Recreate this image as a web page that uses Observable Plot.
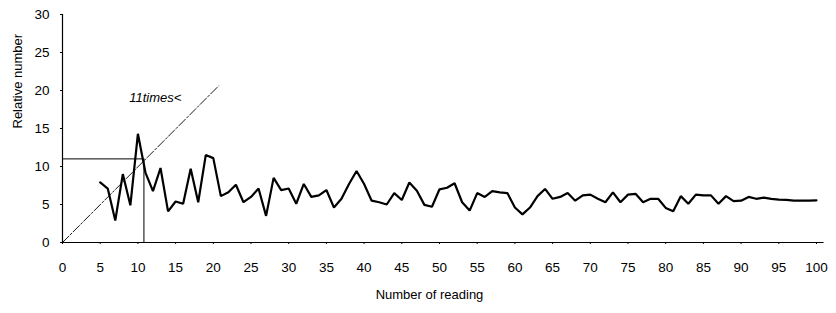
<!DOCTYPE html>
<html>
<head>
<meta charset="utf-8">
<script src="https://cdn.jsdelivr.net/npm/d3@7"></script>
<script src="https://cdn.jsdelivr.net/npm/@observablehq/plot@0.6"></script>
<style>
  html, body { margin: 0; padding: 0; background: #fff; }
  #chart svg { font-family: "Liberation Sans", Arial, sans-serif; }
</style>
</head>
<body>
<div id="chart"></div>
<script>
// Reading numbers (5..100) and relative numbers
const readings = d3.range(5, 101);
const relative = [
  7.9, 7.1, 2.9, 9.0, 4.9, 14.3, 9.2, 6.75, 9.8, 4.1,
  5.4, 5.1, 9.7, 5.3, 11.5, 11.1, 6.1, 6.6, 7.6, 5.3,
  6.0, 7.1, 3.5, 8.5, 6.9, 7.1, 5.1, 7.7, 6.0, 6.2,
  6.9, 4.6, 5.75, 7.7, 9.4, 7.7, 5.5, 5.3, 5.0, 6.5,
  5.6, 7.9, 6.8, 4.95, 4.7, 7.0, 7.2, 7.8, 5.3, 4.2,
  6.5, 6.0, 6.75, 6.6, 6.5, 4.6, 3.7, 4.6, 6.1, 7.05,
  5.75, 6.0, 6.5, 5.5, 6.2, 6.3, 5.75, 5.3, 6.6, 5.3,
  6.3, 6.4, 5.3, 5.75, 5.75, 4.55, 4.1, 6.1, 5.1, 6.3,
  6.2, 6.2, 5.1, 6.1, 5.45, 5.5, 6.0, 5.75, 5.9, 5.75,
  5.65, 5.6, 5.5, 5.5, 5.5, 5.55
];
const xTicks = d3.range(0, 101, 5);
const yTicks = d3.range(0, 31, 5);

// Reference construction lines
const diagX = [0, 20.7];
const diagY = [0, 20.6];
const crossX = 10.8;
const crossY = 11;
const annotation = {x: 12.3, y: 19.1, text: "11times<"};

const series = readings.map((r, i) => ({reading: r, value: relative[i]}));
const diag = diagX.map((x, i) => ({x, y: diagY[i]}));

const chart = Plot.plot({
  width: 836,
  height: 313,
  marginLeft: 62,
  marginRight: 20,
  marginTop: 14,
  marginBottom: 71,
  style: {fontSize: "13.5px", fontFamily: "'Liberation Sans', Arial, sans-serif", color: "#000"},
  x: {domain: [0, 100]},
  y: {domain: [0, 30]},
  marks: [
    Plot.axisX({ticks: xTicks, tickSize: 2, tickPadding: 18, label: null, fontSize: 13.5}),
    Plot.axisY({ticks: yTicks, tickSize: 2, tickPadding: 11, label: null, fontSize: 13.5}),
    Plot.ruleX([0], {y1: 0, y2: 30, stroke: "#000", strokeWidth: 1.2}),
    Plot.ruleY([0], {x1: 0, x2: 101, stroke: "#000", strokeWidth: 1.2}),
    Plot.ruleY([crossY], {x1: 0, x2: crossX, stroke: "#000", strokeWidth: 1}),
    Plot.ruleX([crossX], {y1: 0, y2: crossY, stroke: "#000", strokeWidth: 1}),
    Plot.line(diag, {x: "x", y: "y", stroke: "#000", strokeWidth: 0.9, strokeDasharray: "9,2,2,2"}),
    Plot.line(series, {x: "reading", y: "value", stroke: "#000", strokeWidth: 2.2, strokeLinejoin: "miter"}),
    Plot.text([annotation], {x: "x", y: "y", text: "text", fontStyle: "italic", fontSize: 13, letterSpacing: "0.6px"}),
    Plot.text(["Number of reading"], {frameAnchor: "bottom", dy: 56, dx: -10, fontSize: 13}),
    Plot.text(["Relative number"], {frameAnchor: "left", dx: -45, rotate: -90, fontSize: 13})
  ]
});
document.getElementById("chart").appendChild(chart);
</script>
</body>
</html>
